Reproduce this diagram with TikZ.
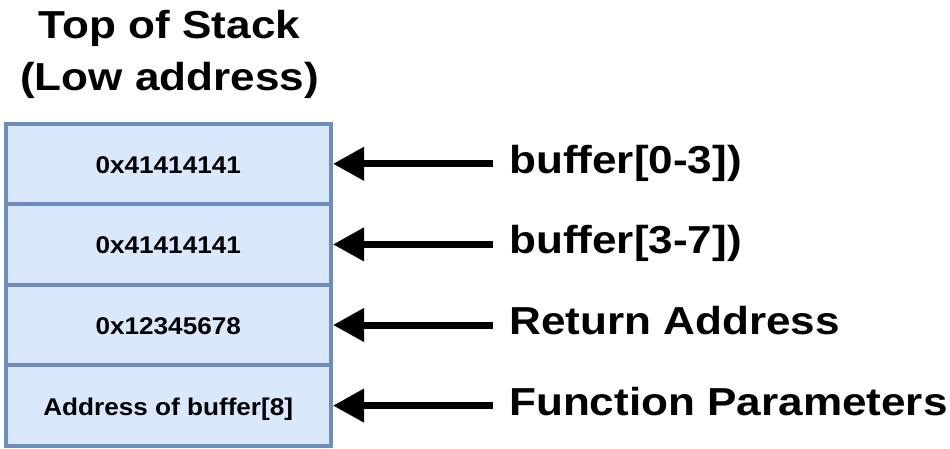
\documentclass[tikz,border=0pt]{standalone}
\usepackage{fontspec}
\setmainfont{Liberation Sans}
\newfontfamily\bigfont[FakeStretch=1.13]{Liberation Sans}
\newfontfamily\smallfont[FakeStretch=1.08]{Liberation Sans}
\usetikzlibrary{arrows.meta}
\definecolor{boxfill}{HTML}{DAE8FC}
\definecolor{boxline}{HTML}{6C8EBF}
\tikzset{
  stackbox/.style={draw=boxline, fill=boxfill, line width=4pt,
    minimum width=325.5pt, minimum height=80.6pt, inner sep=0pt,
    text height=19pt, text depth=0pt,
    font=\smallfont\bfseries\fontsize{24.2}{28}\selectfont},
  lbl/.style={anchor=base west, inner sep=0pt,
    font=\bigfont\bfseries\fontsize{39}{46}\selectfont},
  ttl/.style={anchor=base, inner sep=0pt,
    font=\bigfont\bfseries\fontsize{39}{46}\selectfont},
  ptr/.style={line width=7pt, -{Triangle[length=31pt,width=32pt]}}
}
\begin{document}
\begin{tikzpicture}[x=1pt,y=-1pt]
\useasboundingbox (0,0) rectangle (950,448);
\node[ttl] (t1) at (169.5,38) {Top of Stack};
\node[ttl] (t2) at (169.5,90) {(Low address)};
\node[stackbox] (b1) at (168.25,163.8) {0x41414141};
\node[stackbox] (b2) at (168.25,244.4) {0x41414141};
\node[stackbox] (b3) at (168.25,325.0) {0x12345678};
\node[stackbox] (b4) at (168.25,405.6) {Address of buffer[8]};
\node[lbl] (l1) at (509,173.3) {buffer[0-3])};
\node[lbl] (l2) at (509,253.9) {buffer[3-7])};
\node[lbl] (l3) at (509,334.5) {Return Address};
\node[lbl] (l4) at (509,415.1) {Function Parameters};
\coordinate (s1) at (493,163.8);
\coordinate (s2) at (493,244.4);
\coordinate (s3) at (493,325.0);
\coordinate (s4) at (493,405.6);
\draw[ptr] (s1) -- (b1.east);
\draw[ptr] (s2) -- (b2.east);
\draw[ptr] (s3) -- (b3.east);
\draw[ptr] (s4) -- (b4.east);
\end{tikzpicture}
\end{document}
